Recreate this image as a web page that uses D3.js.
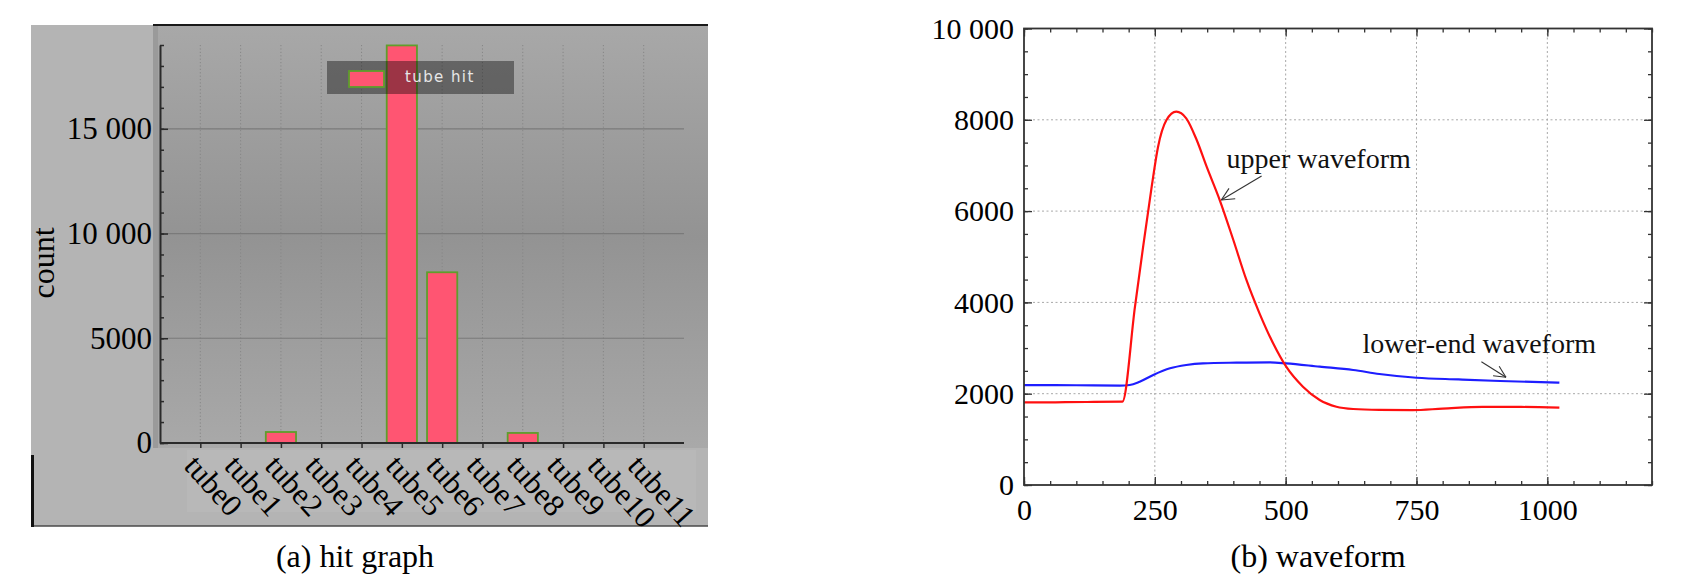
<!DOCTYPE html>
<html>
<head>
<meta charset="utf-8">
<script src="https://cdn.jsdelivr.net/npm/d3@7"></script>
<style>
  html, body { margin: 0; padding: 0; background: #ffffff; }
  svg { display: block; }
  text.serif, .serif text { font-family: "Liberation Serif", "Times New Roman", serif; }
  text.sans { font-family: "DejaVu Sans", sans-serif; }
</style>
</head>
<body>
<svg id="chart" width="1700" height="588"></svg>
<script>
// ---------------- DATA ----------------
// (a) hit graph
const tubes = ["tube0","tube1","tube2","tube3","tube4","tube5","tube6","tube7","tube8","tube9","tube10","tube11"];
const hits  = [0, 0, 525, 0, 0, 18980, 8150, 0, 480, 0, 0, 0];
const hitTicks = [0, 5000, 10000, 15000];
const hitTickLabels = ["0", "5000", "10 000", "15 000"];
const hitMinorTicks = d3.range(0, 19001, 1000);
const hitLegend = "tube hit";
const hitYLabel = "count";
const hitCaption = "(a) hit graph";

// (b) waveform
const upperX = [0, 60, 120, 188, 212, 228, 244, 256, 272, 291, 310, 330, 349, 374, 400, 425, 450, 476, 501, 533, 565, 597, 629, 679, 742, 800, 876, 950, 1023];
const upperY = [1810, 1812, 1818, 1825, 3900, 5250, 6535, 7400, 7990, 8177, 8032, 7557, 6973, 6243, 5367, 4491, 3761, 3104, 2592, 2154, 1862, 1715, 1665, 1645, 1640, 1672, 1712, 1710, 1693];
const lowerX = [0, 100, 183, 202, 221, 247, 279, 310, 342, 406, 469, 501, 565, 629, 679, 750, 830, 910, 1023];
const lowerY = [2190, 2185, 2176, 2190, 2263, 2410, 2556, 2629, 2665, 2680, 2687, 2665, 2592, 2519, 2432, 2350, 2312, 2278, 2241];
const waveXTicks = [0, 250, 500, 750, 1000];
const waveXMinor = d3.range(0, 1201, 50);
const waveYTicks = [0, 2000, 4000, 6000, 8000, 10000];
const waveYTickLabels = ["0", "2000", "4000", "6000", "8000", "10 000"];
const waveYMinor = d3.range(0, 10001, 500);
const waveCaption = "(b) waveform";
// annotations: [label, textX, textY, arrowFromX, arrowFromY, arrowToX, arrowToY] in data units
const upperNote = ["upper waveform", 387, 6937, 454, 6769, 377, 6243];
const lowerNote = ["lower-end waveform", 647, 2892, 874, 2701, 921, 2359];

// ---------------- DRAW ----------------
const svg = d3.select("#chart");
svg.append("rect").attr("width", 1700).attr("height", 588).attr("fill", "#ffffff");

const defs = svg.append("defs");
const grad = defs.append("linearGradient").attr("id", "panelGrad")
  .attr("x1", 0).attr("y1", 0).attr("x2", 0).attr("y2", 1);
grad.append("stop").attr("offset", "0%").attr("stop-color", "#a8a8a8");
grad.append("stop").attr("offset", "50%").attr("stop-color", "#939393");
grad.append("stop").attr("offset", "100%").attr("stop-color", "#a9a9a9");

// ===== Panel (a) =====
const A = svg.append("g");
A.append("rect").attr("x", 31).attr("y", 25).attr("width", 677).attr("height", 501).attr("fill", "#b4b4b4");
A.append("rect").attr("x", 153).attr("y", 26).attr("width", 555).attr("height", 422).attr("fill", "url(#panelGrad)");
A.append("rect").attr("x", 153).attr("y", 26).attr("width", 5).attr("height", 422).attr("fill", "#9a9a9a");
A.append("rect").attr("x", 187).attr("y", 450).attr("width", 509).attr("height", 62).attr("fill", "#b8b8b8");
A.append("line").attr("x1", 153).attr("x2", 708).attr("y1", 25).attr("y2", 25).attr("stroke", "#1a1a1a").attr("stroke-width", 2.2);
A.append("line").attr("x1", 31).attr("x2", 708).attr("y1", 526).attr("y2", 526).attr("stroke", "#4a4a4a").attr("stroke-width", 1.5);
A.append("line").attr("x1", 32.5).attr("x2", 32.5).attr("y1", 455).attr("y2", 527).attr("stroke", "#111").attr("stroke-width", 3);

const xA = d3.scalePoint().domain(tubes).range([160, 684]).padding(1);
const yA = d3.scaleLinear().domain([0, 19000]).range([443, 45]);

// grid
A.append("g").selectAll("line").data(tubes).join("line")
  .attr("x1", d => xA(d)).attr("x2", d => xA(d))
  .attr("y1", yA(19000)).attr("y2", yA(0))
  .attr("stroke", "#868686").attr("stroke-width", 1).attr("stroke-dasharray", "1.2,2.2");
A.append("g").selectAll("line").data(hitTicks.filter(d => d > 0)).join("line")
  .attr("x1", 160).attr("x2", 684)
  .attr("y1", d => yA(d)).attr("y2", d => yA(d))
  .attr("stroke", "#7a7a7a").attr("stroke-width", 1.2);

// bars
const barW = xA.step() * 0.75;
A.append("g").selectAll("rect").data(tubes).join("rect")
  .attr("x", d => xA(d) - barW / 2)
  .attr("y", (d, i) => yA(hits[i]))
  .attr("width", barW)
  .attr("height", (d, i) => yA(0) - yA(hits[i]))
  .attr("fill", (d, i) => hits[i] > 0 ? "#ff5572" : "none")
  .attr("stroke", (d, i) => hits[i] > 0 ? "#5f9e2c" : "none")
  .attr("stroke-width", 1.8);

// y axis
const yAxA = A.append("g").attr("transform", "translate(160,0)")
  .call(d3.axisLeft(yA).tickValues(hitMinorTicks).tickSize(-4).tickSizeOuter(0).tickFormat(""));
yAxA.select(".domain").attr("stroke", "#2a2a2a").attr("stroke-width", 2);
yAxA.selectAll(".tick line").attr("stroke", "#2a2a2a").attr("stroke-width", 1.5);
const yAxA2 = A.append("g").attr("class", "serif").attr("transform", "translate(160,0)")
  .call(d3.axisLeft(yA).tickValues(hitTicks).tickSize(-8).tickSizeOuter(0).tickPadding(8)
    .tickFormat((d, i) => hitTickLabels[i]));
yAxA2.select(".domain").remove();
yAxA2.selectAll(".tick line").attr("stroke", "#2a2a2a").attr("stroke-width", 1.5);
yAxA2.selectAll(".tick text").attr("fill", "#000").attr("font-size", 31);

// x axis
const xAxA = A.append("g").attr("class", "serif").attr("transform", `translate(0,${yA(0)})`)
  .call(d3.axisBottom(xA).tickSize(5).tickSizeOuter(0).tickFormat(""));
xAxA.select(".domain").attr("d", "M160,0H684").attr("stroke", "#2a2a2a").attr("stroke-width", 2);
xAxA.selectAll(".tick line").attr("stroke", "#2a2a2a").attr("stroke-width", 1.5);
xAxA.selectAll(".tick").append("text")
  .attr("transform", "translate(-18,24) rotate(48)")
  .attr("text-anchor", "start")
  .attr("fill", "#000").attr("font-size", 31)
  .text(d => d);

// y label
A.append("text").attr("class", "serif").attr("transform", "translate(54,263) rotate(-90)")
  .attr("text-anchor", "middle").attr("font-size", 32).attr("fill", "#000").text(hitYLabel);

// legend
A.append("rect").attr("x", 327).attr("y", 61).attr("width", 187).attr("height", 33)
  .attr("fill", "#000").attr("fill-opacity", 0.39);
A.append("rect").attr("x", 349).attr("y", 71).attr("width", 35).attr("height", 16)
  .attr("fill", "#ff5572").attr("stroke", "#5f9e2c").attr("stroke-width", 1.8);
A.append("text").attr("class", "sans").attr("x", 405).attr("y", 82).attr("font-size", 15)
  .attr("letter-spacing", 1.4)
  .attr("fill", "#e6e6e6").text(hitLegend);

// caption
A.append("text").attr("class", "serif").attr("x", 355).attr("y", 567).attr("text-anchor", "middle")
  .attr("font-size", 32).attr("fill", "#000").text(hitCaption);

// ===== Panel (b) =====
const B = svg.append("g");
const xB = d3.scaleLinear().domain([0, 1200]).range([1024, 1652]);
const yB = d3.scaleLinear().domain([0, 10000]).range([485, 28.5]);

// grid
B.append("g").selectAll("line").data(waveXTicks.filter(d => d > 0)).join("line")
  .attr("x1", d => xB(d)).attr("x2", d => xB(d)).attr("y1", yB(10000)).attr("y2", yB(0))
  .attr("stroke", "#a8a8a8").attr("stroke-width", 1).attr("stroke-dasharray", "2,2.5");
B.append("g").selectAll("line").data(waveYTicks.filter(d => d > 0 && d < 10000)).join("line")
  .attr("x1", xB(0)).attr("x2", xB(1200)).attr("y1", d => yB(d)).attr("y2", d => yB(d))
  .attr("stroke", "#a8a8a8").attr("stroke-width", 1).attr("stroke-dasharray", "2,2.5");

// curves
const lineGen = d3.line().x(d => xB(d[0])).y(d => yB(d[1])).curve(d3.curveMonotoneX);
B.append("path").datum(lowerX.map((x, i) => [x, lowerY[i]]))
  .attr("d", lineGen).attr("fill", "none").attr("stroke", "#1e1eff").attr("stroke-width", 2.2);
B.append("path").datum(upperX.map((x, i) => [x, upperY[i]]))
  .attr("d", lineGen).attr("fill", "none").attr("stroke", "#ff1010").attr("stroke-width", 2.2);

// axes (ticks inward)
function styleAxis(g) {
  g.select(".domain").remove();
  g.selectAll(".tick line").attr("stroke", "#333").attr("stroke-width", 1.3);
}
B.append("g").attr("transform", `translate(0,${yB(0)})`)
  .call(d3.axisBottom(xB).tickValues(waveXMinor).tickSize(-4).tickFormat("")).call(styleAxis);
B.append("g").attr("transform", `translate(0,${yB(10000)})`)
  .call(d3.axisTop(xB).tickValues(waveXMinor).tickSize(-4).tickFormat("")).call(styleAxis);
B.append("g").attr("transform", `translate(${xB(0)},0)`)
  .call(d3.axisLeft(yB).tickValues(waveYMinor).tickSize(-4).tickFormat("")).call(styleAxis);
B.append("g").attr("transform", `translate(${xB(1200)},0)`)
  .call(d3.axisRight(yB).tickValues(waveYMinor).tickSize(-4).tickFormat("")).call(styleAxis);

const bx = B.append("g").attr("class", "serif").attr("transform", `translate(0,${yB(0)})`)
  .call(d3.axisBottom(xB).tickValues(waveXTicks).tickSize(-8).tickPadding(14).tickFormat(d3.format("d")));
styleAxis(bx);
bx.selectAll(".tick text").attr("font-size", 30).attr("fill", "#000");
B.append("g").attr("transform", `translate(0,${yB(10000)})`)
  .call(d3.axisTop(xB).tickValues(waveXTicks).tickSize(-8).tickFormat("")).call(styleAxis);
const ly = B.append("g").attr("class", "serif").attr("transform", `translate(${xB(0)},0)`)
  .call(d3.axisLeft(yB).tickValues(waveYTicks).tickSize(-8).tickPadding(10).tickFormat((d, i) => waveYTickLabels[i]));
styleAxis(ly);
ly.selectAll(".tick text").attr("font-size", 30).attr("fill", "#000");
B.append("g").attr("transform", `translate(${xB(1200)},0)`)
  .call(d3.axisRight(yB).tickValues(waveYTicks).tickSize(-8).tickFormat("")).call(styleAxis);

// frame
B.append("rect").attr("x", xB(0)).attr("y", yB(10000)).attr("width", xB(1200) - xB(0)).attr("height", yB(0) - yB(10000))
  .attr("fill", "none").attr("stroke", "#333").attr("stroke-width", 1.8);

// annotations
function note(n, headLen) {
  const [label, tx, ty, fx, fy, ax, ay] = n;
  B.append("text").attr("class", "serif").attr("x", xB(tx)).attr("y", yB(ty)).attr("font-size", 28).attr("fill", "#111").text(label);
  const x1 = xB(fx), y1 = yB(fy), x2 = xB(ax), y2 = yB(ay);
  const ang = Math.atan2(y1 - y2, x1 - x2);
  const g = B.append("g").attr("stroke", "#333").attr("stroke-width", 1.1).attr("fill", "none");
  g.append("line").attr("x1", x1).attr("y1", y1).attr("x2", x2).attr("y2", y2);
  [-0.45, 0.45].forEach(da => {
    g.append("line").attr("x1", x2).attr("y1", y2)
      .attr("x2", x2 + headLen * Math.cos(ang + da)).attr("y2", y2 + headLen * Math.sin(ang + da));
  });
}
note(upperNote, 14);
note(lowerNote, 13);

// caption
B.append("text").attr("class", "serif").attr("x", 1318).attr("y", 567).attr("text-anchor", "middle")
  .attr("font-size", 32).attr("fill", "#000").text(waveCaption);
</script>
</body>
</html>
